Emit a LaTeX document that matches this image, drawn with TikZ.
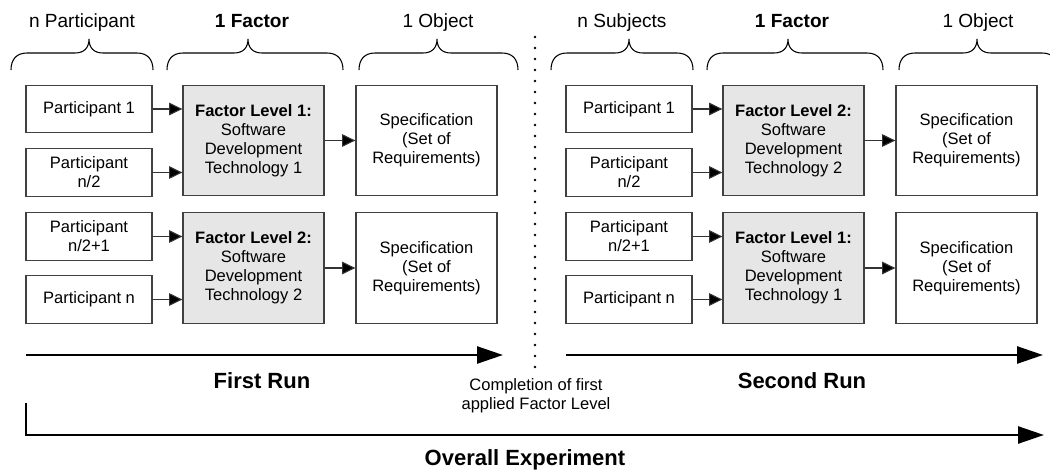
\documentclass[tikz,border=0pt]{standalone}
\usepackage{fontspec}
\setmainfont{Liberation Sans}
\usetikzlibrary{arrows.meta, positioning, calc}
\definecolor{edge}{RGB}{64,64,64}
\definecolor{shade}{RGB}{230,230,230}

\tikzset{
  box/.style={draw=edge, line width=1pt, inner sep=0pt, align=center,
    font=\fontsize{12.4}{14.3}\selectfont},
  partbox/.style={box, minimum width=94.5pt, minimum height=35.6pt},
  bigbox/.style={box, minimum width=105.75pt, minimum height=82.9pt},
  lvlbox/.style={bigbox, fill=shade},
  link/.style={draw=black!80, line width=0.8pt, -{Triangle[length=10pt, width=9.5pt, fill=black]}},
  runarrow/.style={line width=1.9pt, -{Triangle[length=19.5pt, width=12.75pt]}},
  brc/.style={line width=0.8pt},
  head/.style={anchor=base, inner sep=0pt, font=\fontsize{14.3}{16}\selectfont},
  runlab/.style={anchor=base, inner sep=0pt, font=\fontsize{16.5}{19}\selectfont\bfseries},
  dotline/.style={line width=2.1pt, line cap=round, dash pattern=on 0pt off 8.25pt},
}

\begin{document}
\begin{tikzpicture}[x=0.75pt, y=-0.75pt]
  \useasboundingbox (0,0) rectangle (1050,471);
  % two runs, second one shifted by 540px
  \foreach \r/\ox/\who/\la/\lb/\run in {1/0/{n Participant}/1/2/{First Run},
                                         2/540/{n Subjects}/2/1/{Second Run}}{
    % braces and their headings
    \foreach \a/\t/\b/\c/\lab [count=\i] in {11/89/153/82/{\who},
                                         167/248/343/252/{\textbf{1 Factor}},
                                         359/437/518/438/{1 Object}}{
      \pgfmathsetmacro\xa{\a+\ox}
      \pgfmathsetmacro\xt{\t+\ox}
      \pgfmathsetmacro\xb{\b+\ox}
      \draw[brc] (\xa,70) .. controls (\xa,60) and (\xa+5,53) .. (\xa+16,53)
        -- (\xt-14,53) .. controls (\xt-5,53) and (\xt,48) .. (\xt,39)
        .. controls (\xt,48) and (\xt+5,53) .. (\xt+14,53)
        -- (\xb-16,53) .. controls (\xb-5,53) and (\xb,60) .. (\xb,70);
      \node[head] (hd\r\i) at (\c+\ox,27) {\lab};
    }
    % participants
    \node[partbox] (pA\r) at (89+\ox,109)   {Participant 1};
    \node[partbox] (pB\r) at (89+\ox,172.5) {Participant\\n/2};
    \node[partbox] (pC\r) at (89+\ox,236.5) {Participant\\n/2+1};
    \node[partbox] (pD\r) at (89+\ox,299.5) {Participant n};
    % factor levels
    \node[lvlbox] (fA\r) at (253.5+\ox,140.5)
      {\textbf{Factor Level \la:}\\Software\\Development\\Technology \la};
    \node[lvlbox] (fB\r) at (253.5+\ox,268)
      {\textbf{Factor Level \lb:}\\Software\\Development\\Technology \lb};
    % objects
    \node[bigbox] (sA\r) at (426.5+\ox,140.5) {Specification\\(Set of\\Requirements)};
    \node[bigbox] (sB\r) at (426.5+\ox,268)   {Specification\\(Set of\\Requirements)};
    \draw[link] (pA\r.east) -- (pA\r -| fA\r.west);
    \draw[link] (pB\r.east) -- (pB\r -| fA\r.west);
    \draw[link] (pC\r.east) -- (pC\r -| fB\r.west);
    \draw[link] (pD\r.east) -- (pD\r -| fB\r.west);
    \draw[link] (fA\r) -- (sA\r);
    \draw[link] (fB\r) -- (sB\r);
    % run arrow
    \coordinate (rs\r) at (26+\ox,355);
    \coordinate (re\r) at (503+\ox,355);
    \draw[runarrow] (rs\r) -- (re\r);
    \node[runlab] (rl\r) at (262+\ox,388) {\run};
  }
  % end of first factor level
  \coordinate (dotTop) at (535,37);
  \coordinate (dotBot) at (535,372);
  \draw[dotline] (dotTop) -- (dotBot);
  \node[align=center, anchor=north, inner sep=0pt, font=\fontsize{12.4}{14.3}\selectfont]
    (done) at (536,378) {Completion of first\\applied Factor Level};
  % whole experiment
  \coordinate (ovS) at (26,403);
  \coordinate (ovE) at (1044,435);
  \draw[runarrow] (ovS) |- (ovE);
  \node[runlab] (ov) at (525,465) {Overall Experiment};
\end{tikzpicture}
\end{document}
